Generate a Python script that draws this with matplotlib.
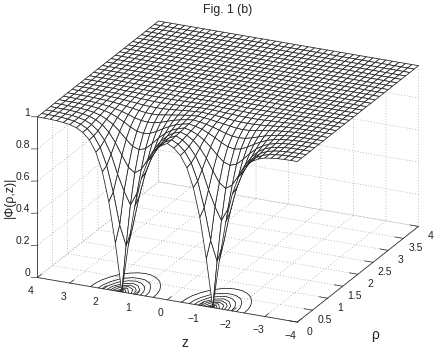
import numpy as np
import matplotlib
matplotlib.use('Agg')
import matplotlib.pyplot as plt
from matplotlib.transforms import ScaledTranslation

plt.rcParams['font.family'] = ['Liberation Sans', 'DejaVu Sans']

# z = 0 ... 4 (mirrored for negative z), one row per rho step
z_half = [0, 0.2, 0.4, 0.6, 0.8, 1, 1.2, 1.4, 1.6, 1.8, 2, 2.2, 2.4, 2.6, 2.8, 3, 3.2, 3.4, 3.6, 3.8, 4]
rho = [0, .143, .286, .429, .571, .714, .857, 1, 1.143, 1.286, 1.429, 1.571, 1.714, 1.857, 2,
       2.143, 2.286, 2.429, 2.571, 2.714, 2.857, 3, 3.143, 3.286, 3.429, 3.571, 3.714, 3.857, 4]
phi_half = [
    [.973, .951, .912, .843, .727, .548, .298, 0, .298, .548, .727, .843, .912, .951, .973, .986, .992, .996, .998, .999, .999],
    [.974, .953, .916, .851, .745, .587, .391, .268, .391, .587, .745, .851, .916, .953, .974, .986, .992, .996, .998, .999, .999],
    [.977, .958, .926, .874, .794, .677, .579, .500, .579, .677, .794, .874, .926, .958, .977, .987, .993, .996, .998, .999, .999],
    [.980, .966, .941, .902, .845, .773, .706, .677, .706, .773, .845, .902, .941, .966, .980, .989, .994, .997, .998, .999, .999],
    [.984, .973, .955, .929, .893, .851, .814, .800, .814, .851, .893, .929, .955, .973, .984, .991, .995, .997, .998, .999, 1],
    [.988, .980, .969, .951, .930, .906, .887, .880, .887, .906, .930, .951, .969, .980, .988, .993, .996, .998, .999, .999, 1],
    [.991, .986, .978, .968, .955, .942, .932, .929, .932, .942, .955, .968, .978, .986, .991, .995, .997, .998, .999, 1, 1],
    [.994, .990, .986, .979, .973, .966, .960, .958, .960, .966, .973, .979, .986, .990, .994, .996, .998, .999, .999, 1, 1],
    [.996, .994, .991, .987, .983, .979, .977, .976, .977, .979, .983, .987, .991, .994, .996, .997, .998, .999, 1, 1, 1],
    [.997, .996, .994, .992, .990, .988, .986, .986, .986, .988, .990, .992, .994, .996, .997, .998, .999, .999, 1, 1, 1],
    [.998, .997, .996, .995, .994, .993, .992, .992, .992, .993, .994, .995, .996, .997, .998, .999, .999, 1, 1, 1, 1],
    [.999, .998, .997, .997, .996, .995, .995, .995, .995, .995, .996, .997, .997, .998, .999, .999, 1, 1, 1, 1, 1],
    [.999, .999, .998, .998, .998, .997, .997, .997, .997, .997, .998, .998, .998, .999, .999, 1, 1, 1, 1, 1, 1],
] + [[1] * 21 for _ in range(16)]
contour_levels = [.1, .2, .3, .4, .5, .6, .7, .8, .9]

z_ticks = [4, 3, 2, 1, 0, -1, -2, -3, -4]
rho_ticks = [0, 0.5, 1, 1.5, 2, 2.5, 3, 3.5, 4]
phi_ticks = [0, 0.2, 0.4, 0.6, 0.8, 1]

# mirror the half table onto negative z
z_half = np.array(z_half)
phi_half = np.array(phi_half)
z = np.concatenate([-z_half[:0:-1], z_half])
phi = np.hstack([phi_half[:, :0:-1], phi_half])
Z, R = np.meshgrid(z, np.array(rho))

fig = plt.figure(figsize=(4.36, 3.52), dpi=100)
size = 400
ax = fig.add_axes([(222.5 - size / 2) / 436, (175 - size / 2) / 352, size / 436, size / 352],
                  projection='3d', computed_zorder=False)
ax.set_proj_type('ortho')
ax.view_init(elev=21.6, azim=-65)
ax.set_box_aspect((287, 287, 173), zoom=1.07)
ax.patch.set_alpha(0)

ax.contour(Z, R, phi, levels=contour_levels, zdir='z', offset=0, colors='k', linewidths=0.5, zorder=1)
ax.plot_surface(Z, R, phi, rstride=1, cstride=1, color='white', edgecolor='#222222',
                linewidth=0.55, shade=False, zorder=2)

ax.set_xlim(4, -4)
ax.set_ylim(0, 4)
ax.set_zlim(0, 1)
ax.set_xticks(z_ticks)
ax.set_xticklabels([str(t).replace('-', '\u2212') for t in z_ticks], va='center')
ax.set_yticks(rho_ticks)
ax.set_yticklabels([f'{t:g}' for t in rho_ticks], va='center')
ax.set_zticks(phi_ticks)
ax.set_zticklabels([f'{t:g}' for t in phi_ticks], ha='right', va='bottom')
ax.zaxis.set_ticks_position('lower')

for axis in (ax.xaxis, ax.yaxis, ax.zaxis):
    axis.set_pane_color((1, 1, 1, 0))
    axis.pane.set_edgecolor((1, 1, 1, 0))
    axis.line.set_color('#333333')
    axis.line.set_linewidth(0.6)
    axis._axinfo['grid'].update(color='#888888', linewidth=0.5, linestyle=(0, (1, 3)))
    axis._axinfo['tick'].update(inward_factor=0, outward_factor=0.4, linewidth={True: 0.5, False: 0.5})
ax.zaxis._axinfo['tick'].update(outward_factor=0)
ax.tick_params(labelsize=7.5, colors='#222222')
ax.tick_params(axis='x', pad=0)
ax.tick_params(axis='y', pad=-1)
ax.tick_params(axis='z', pad=-5.2)

# nudge the vertical axis labels down to sit level with their ticks
for label in ax.get_zticklabels():
    label.set_transform(label.get_transform() + ScaledTranslation(0, -3.5 / 100, fig.dpi_scale_trans))

# the vertical axis has flat ticks, which the 3d axis cannot draw itself
for t in phi_ticks:
    ax.plot([4, 4.151], [0, -0.036], [t, t], color='#333333', linewidth=0.5, zorder=0)

fig.text(185 / 436, 1 - 343 / 352, 'z', fontsize=10, ha='center', va='center', color='#222222')
fig.text(375 / 436, 1 - 335 / 352, '\u03c1', fontsize=10, ha='center', va='center', color='#222222')
fig.text(10 / 436, 1 - 197 / 352, '|\u03a6(\u03c1,z)|', fontsize=9, rotation=90, ha='center', va='center', color='#222222')
fig.text(228 / 436, 1 - 10 / 352, 'Fig. 1 (b)', fontsize=8.8, ha='center', va='center', color='#222222')

fig.savefig('out.png', dpi=100)
